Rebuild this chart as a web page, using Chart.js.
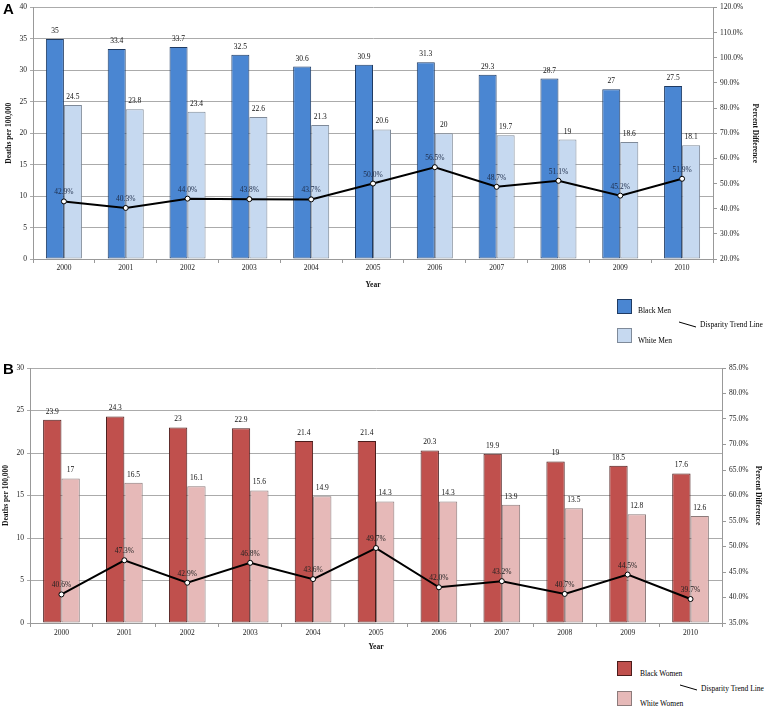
<!DOCTYPE html>
<html>
<head>
<meta charset="utf-8">
<script src="https://cdn.jsdelivr.net/npm/chart.js@4/dist/chart.umd.min.js"></script>
<style>
  body { margin: 0; background: #fff; }
  #wrap { position: relative; width: 765px; height: 712px; font-family: "Liberation Serif", serif; }
  canvas { position: absolute; left: 0; }
  .panel { position: absolute; left: 3px; font: bold 15px "Liberation Sans", Arial, sans-serif; }
  .box { position: absolute; width: 15px; height: 15px; box-sizing: border-box; border: 1px solid; }
  .lg { position: absolute; font-size: 7.5px; line-height: 9px; white-space: nowrap; }
</style>
</head>
<body>
<div id="wrap">
  <canvas id="chartA" width="765" height="300" style="top:0"></canvas>
  <canvas id="chartB" width="765" height="316" style="top:340px"></canvas>
  <div class="panel" style="top:0px">A</div>
  <div class="panel" style="top:360px">B</div>

  <!-- legend A -->
  <div class="box" style="left:617px;top:299px;background:#4a86d2;border-color:#1f3b63"></div>
  <div class="lg" style="left:638px;top:306px">Black Men</div>
  <div class="box" style="left:617px;top:328px;background:#c6d9f0;border-color:#7f8a99"></div>
  <div class="lg" style="left:638px;top:336px">White Men</div>
  <svg style="position:absolute;left:678px;top:321px" width="22" height="8"><line x1="1" y1="1" x2="18" y2="6" stroke="#000" stroke-width="1"/></svg>
  <div class="lg" style="left:700px;top:320px">Disparity Trend Line</div>

  <!-- legend B -->
  <div class="box" style="left:617px;top:661px;background:#c0504d;border-color:#4b1c1b"></div>
  <div class="lg" style="left:640px;top:669px">Black Women</div>
  <div class="box" style="left:617px;top:691px;background:#e6b9b8;border-color:#8c7b7b"></div>
  <div class="lg" style="left:640px;top:699px">White Women</div>
  <svg style="position:absolute;left:679px;top:684px" width="22" height="8"><line x1="1" y1="1" x2="18" y2="6" stroke="#000" stroke-width="1"/></svg>
  <div class="lg" style="left:701px;top:684px">Disparity Trend Line</div>
</div>

<script>
// ---------- DATA ----------
const years = ['2000','2001','2002','2003','2004','2005','2006','2007','2008','2009','2010'];

const blackMen = [35, 33.4, 33.7, 32.5, 30.6, 30.9, 31.3, 29.3, 28.7, 27, 27.5];
const whiteMen = [24.5, 23.8, 23.4, 22.6, 21.3, 20.6, 20, 19.7, 19, 18.6, 18.1];
const menDisparity = [42.9, 40.3, 44.0, 43.8, 43.7, 50.0, 56.5, 48.7, 51.1, 45.2, 51.9];

const blackWomen = [23.9, 24.3, 23, 22.9, 21.4, 21.4, 20.3, 19.9, 19, 18.5, 17.6];
const whiteWomen = [17, 16.5, 16.1, 15.6, 14.9, 14.3, 14.3, 13.9, 13.5, 12.8, 12.6];
const womenDisparity = [40.6, 47.3, 42.9, 46.8, 43.6, 49.7, 42.0, 43.2, 40.7, 44.5, 39.7];

// ---------- LABEL PLUGIN ----------
const valueLabels = {
  id: 'valueLabels',
  afterDatasetsDraw(chart) {
    const ctx = chart.ctx;
    ctx.save();
    ctx.font = '7.5px "Liberation Serif"';
    ctx.textAlign = 'center';
    ctx.textBaseline = 'middle';
    chart.data.datasets.forEach((ds, i) => {
      const meta = chart.getDatasetMeta(i);
      meta.data.forEach((el, j) => {
        const v = ds.data[j];
        if (ds.type === 'line') {
          ctx.fillStyle = ds.labelColor;
          ctx.fillText(v.toFixed(1) + '%', el.x, el.y - 9);
        } else {
          ctx.fillStyle = '#111';
          ctx.fillText(String(v), el.x, el.y - 8);
        }
      });
    });
    ctx.restore();
  }
};

const tickFont = { family: 'Liberation Serif', size: 7.5 };
const titleFont = { family: 'Liberation Serif', size: 7.5, weight: 'bold' };
const gridGrey = '#ababab';
const axisGrey = '#999999';

function makeChart(id, o) {
  new Chart(document.getElementById(id), {
    data: {
      labels: years,
      datasets: [
        { type: 'line', data: o.pct, yAxisID: 'y1', order: 0, borderColor: '#000', borderWidth: 2,
          pointRadius: 2.5, pointBackgroundColor: '#fff', pointBorderColor: '#000', pointBorderWidth: 1,
          tension: 0, labelColor: o.pctColor },
        { type: 'bar', data: o.black, yAxisID: 'y', order: 1, backgroundColor: o.blackFill,
          borderColor: o.blackEdge, borderWidth: 1, borderSkipped: false },
        { type: 'bar', data: o.white, yAxisID: 'y', order: 1, backgroundColor: o.whiteFill,
          borderColor: o.whiteEdge, borderWidth: 1, borderSkipped: false }
      ]
    },
    options: {
      responsive: false,
      animation: false,
      devicePixelRatio: 1,
      layout: { padding: { top: o.top, left: 0, right: 0, bottom: 0 }, autoPadding: false },
      plugins: { legend: { display: false }, tooltip: { enabled: false } },
      datasets: { bar: { categoryPercentage: 0.583, barPercentage: 1 } },
      scales: {
        x: {
          grid: { drawOnChartArea: false, drawTicks: true, tickLength: 4, color: axisGrey, offset: true },
          border: { color: axisGrey },
          ticks: { font: tickFont, color: '#222', padding: o.xPad, maxRotation: 0 },
          title: { display: true, text: 'Year', font: titleFont, color: '#111', padding: { bottom: o.yearPad, top: 0 } },
          afterFit(s) { s.height = o.xH; }
        },
        y: {
          position: 'left', min: 0, max: o.yMax,
          grid: { color: gridGrey, tickLength: 3, lineWidth: 1 },
          border: { color: axisGrey },
          ticks: { stepSize: 5, font: tickFont, color: '#222', padding: 3 },
          title: { display: true, text: 'Deaths per 100,000', font: titleFont, color: '#111', padding: { top: o.leftTitlePad, bottom: 0 } },
          afterFit(s) { s.width = o.leftW; }
        },
        y1: {
          position: 'right', min: o.pMin, max: o.pMax,
          grid: { drawOnChartArea: false, tickLength: 4, color: axisGrey },
          border: { color: axisGrey },
          ticks: { stepSize: o.pStep, font: tickFont, color: '#222', padding: 3,
                   callback: v => v.toFixed(1) + '%' },
          title: { display: true, text: 'Percent Difference', font: titleFont, color: '#111', padding: { top: o.rightTitlePad, bottom: 0 } },
          afterFit(s) { s.width = o.rightW; }
        }
      }
    },
    plugins: [valueLabels]
  });
}

makeChart('chartA', {
  black: blackMen, white: whiteMen, pct: menDisparity,
  blackFill: '#4a86d2', blackEdge: '#1f3b63', whiteFill: '#c6d9f0', whiteEdge: '#7f8a99',
  pctColor: '#1e2d4a',
  yMax: 40, pMin: 20, pMax: 120, pStep: 10,
  top: 5, xH: 41, xPad: 1, yearPad: 10.5, leftW: 33, rightW: 52,
  leftTitlePad: 4.5, rightTitlePad: 5.5
});

makeChart('chartB', {
  black: blackWomen, white: whiteWomen, pct: womenDisparity,
  blackFill: '#c0504d', blackEdge: '#4b1c1b', whiteFill: '#e6b9b8', whiteEdge: '#8c7b7b',
  pctColor: '#222',
  yMax: 30, pMin: 35, pMax: 85, pStep: 5,
  top: 28, xH: 33, xPad: 2, yearPad: 4.5, leftW: 30, rightW: 43,
  leftTitlePad: 1.5, rightTitlePad: 2.5
});
</script>
</body>
</html>
